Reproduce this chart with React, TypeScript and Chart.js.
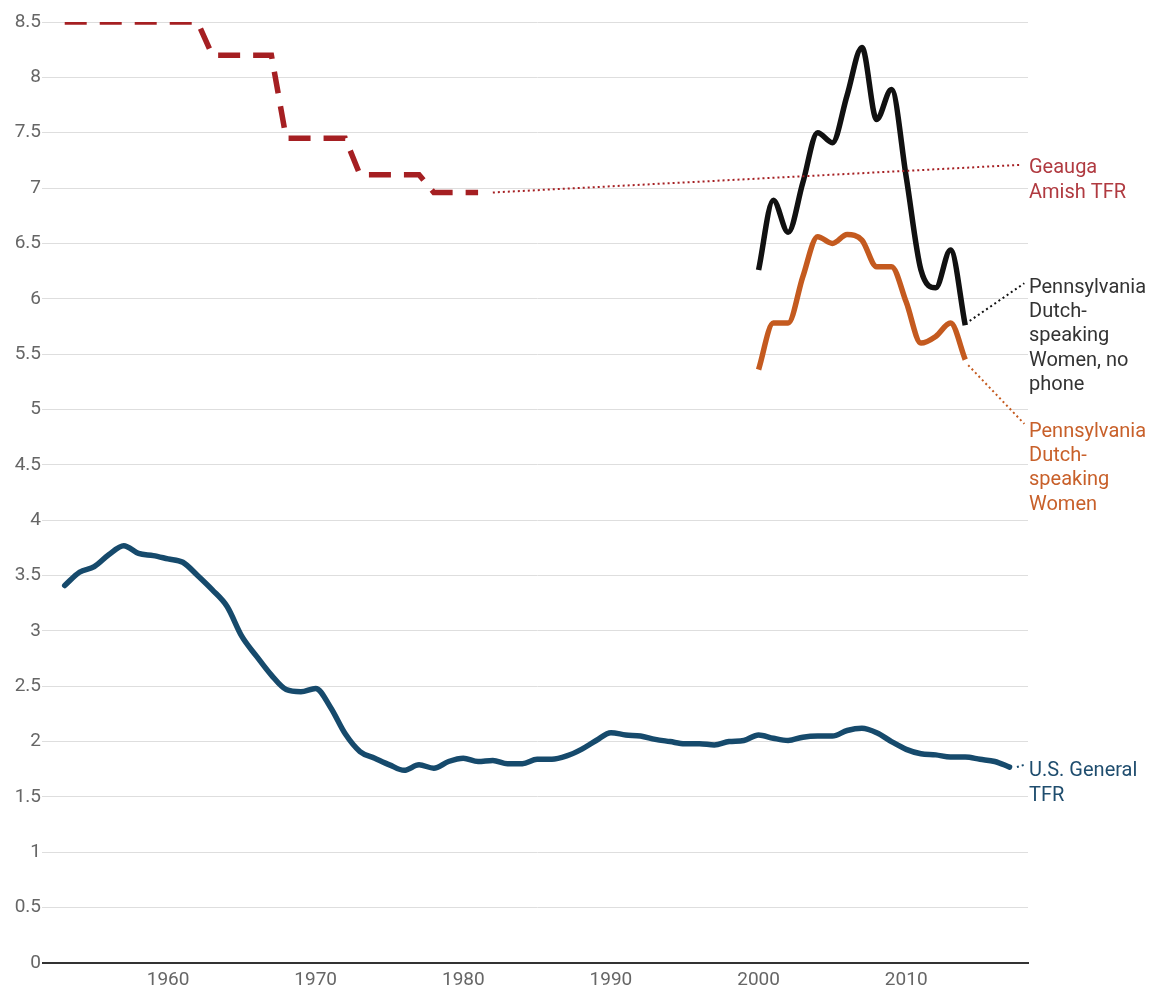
import React, { useEffect, useRef } from "react";
import { Chart, registerables } from "chart.js";

Chart.register(...registerables);

// ---- data ----
const usYears: number[] = [
  1953, 1954, 1955, 1956, 1957, 1958, 1959, 1960, 1961, 1962, 1963, 1964, 1965, 1966, 1967, 1968,
  1969, 1970, 1971, 1972, 1973, 1974, 1975, 1976, 1977, 1978, 1979, 1980, 1981, 1982, 1983, 1984,
  1985, 1986, 1987, 1988, 1989, 1990, 1991, 1992, 1993, 1994, 1995, 1996, 1997, 1998, 1999, 2000,
  2001, 2002, 2003, 2004, 2005, 2006, 2007, 2008, 2009, 2010, 2011, 2012, 2013, 2014, 2015, 2016,
  2017,
];
const usTFR: number[] = [
  3.41, 3.53, 3.58, 3.69, 3.77, 3.7, 3.68, 3.65, 3.62, 3.5, 3.37, 3.22, 2.95, 2.77, 2.6, 2.47,
  2.45, 2.48, 2.31, 2.07, 1.91, 1.85, 1.79, 1.74, 1.79, 1.76, 1.82, 1.85, 1.82, 1.83, 1.8, 1.8,
  1.84, 1.84, 1.87, 1.93, 2.01, 2.08, 2.06, 2.05, 2.02, 2.0, 1.98, 1.98, 1.97, 2.0, 2.01, 2.06,
  2.03, 2.01, 2.04, 2.05, 2.05, 2.1, 2.12, 2.08, 2.0, 1.93, 1.89, 1.88, 1.86, 1.86, 1.84, 1.82,
  1.77,
];

const amishYears: number[] = [
  1953, 1954, 1955, 1956, 1957, 1958, 1959, 1960, 1961, 1962, 1963, 1964, 1965, 1966, 1967, 1968,
  1969, 1970, 1971, 1972, 1973, 1974, 1975, 1976, 1977, 1978, 1979, 1980, 1981,
];
const amishTFR: number[] = [
  8.5, 8.5, 8.5, 8.5, 8.5, 8.5, 8.5, 8.5, 8.5, 8.5, 8.2, 8.2, 8.2, 8.2, 8.2, 7.45,
  7.45, 7.45, 7.45, 7.45, 7.12, 7.12, 7.12, 7.12, 7.12, 6.96, 6.96, 6.96, 6.96,
];

const paYears: number[] = [
  2000, 2001, 2002, 2003, 2004, 2005, 2006, 2007, 2008, 2009, 2010, 2011, 2012, 2013, 2014,
];
const paNoPhoneTFR: number[] = [
  6.26, 6.89, 6.6, 7.05, 7.5, 7.41, 7.84, 8.27, 7.62, 7.89, 7.1, 6.26, 6.1, 6.44, 5.76,
];
const paWomenTFR: number[] = [
  5.36, 5.78, 5.78, 6.2, 6.56, 6.5, 6.58, 6.53, 6.29, 6.29, 5.97, 5.6, 5.66, 5.78, 5.45,
];

const yTicks: number[] = [0, 0.5, 1, 1.5, 2, 2.5, 3, 3.5, 4, 4.5, 5, 5.5, 6, 6.5, 7, 7.5, 8, 8.5];
const xTicks: number[] = [1960, 1970, 1980, 1990, 2000, 2010];

// leader lines (label connectors), [year, value] endpoints
const amishLeaderX: number[] = [1982, 2017.8];
const amishLeaderY: number[] = [6.96, 7.21];
const noPhoneLeaderX: number[] = [2014.3, 2018.0];
const noPhoneLeaderY: number[] = [5.8, 6.14];
const womenLeaderX: number[] = [2014.2, 2018.0];
const womenLeaderY: number[] = [5.4, 4.87];
const usLeaderX: number[] = [2017.5, 2018.0];
const usLeaderY: number[] = [1.77, 1.79];

const labelLines: string[][] = [
  ["Geauga", "Amish TFR"],
  ["Pennsylvania", "Dutch-", "speaking", "Women, no", "phone"],
  ["Pennsylvania", "Dutch-", "speaking", "Women"],
  ["U.S. General", "TFR"],
];
const labelAnchorValues: number[] = [7.18, 6.1, 4.8, 1.73];

const COLORS = {
  amish: "#a51f22",
  amishText: "#b03a40",
  noPhone: "#111111",
  noPhoneText: "#333333",
  women: "#c45a1f",
  womenText: "#c8602a",
  us: "#164a6c",
  usText: "#1f4d6e",
};
const labelColors: string[] = [COLORS.amishText, COLORS.noPhoneText, COLORS.womenText, COLORS.usText];

const FONT = "Roboto, 'Noto Sans', sans-serif";

const pts = (xs: number[], ys: number[]) => xs.map((x, i) => ({ x, y: ys[i] }));

const sideLabels = {
  id: "sideLabels",
  afterDraw(chart: any) {
    const { ctx, chartArea, scales } = chart;
    ctx.save();
    ctx.font = `20px ${FONT}`;
    ctx.textAlign = "left";
    ctx.textBaseline = "middle";
    labelLines.forEach((lines, i) => {
      const y0 = scales.y.getPixelForValue(labelAnchorValues[i]);
      ctx.fillStyle = labelColors[i];
      lines.forEach((t, j) => {
        ctx.fillText(t, chartArea.right + 1, y0 + j * 24.4);
      });
    });
    ctx.restore();
  },
};

export default function App() {
  const ref = useRef<HTMLCanvasElement | null>(null);
  useEffect(() => {
    if (!ref.current) return;
    const leader = (xs: number[], ys: number[], color: string) => ({
      data: pts(xs, ys),
      borderColor: color,
      borderWidth: 2,
      borderDash: [2, 3],
      pointRadius: 0,
      tension: 0,
      fill: false,
    });
    const chart = new Chart(ref.current, {
      type: "line",
      data: {
        datasets: [
          {
            data: pts(amishYears, amishTFR),
            borderColor: COLORS.amish,
            borderWidth: 5.5,
            borderDash: [22, 13],
            borderCapStyle: "butt",
            pointRadius: 0,
            tension: 0,
          },
          leader(amishLeaderX, amishLeaderY, COLORS.amish),
          {
            data: pts(usYears, usTFR),
            borderColor: COLORS.us,
            borderWidth: 5.5,
            borderCapStyle: "round",
            borderJoinStyle: "round",
            pointRadius: 0,
            cubicInterpolationMode: "monotone",
          },
          leader(usLeaderX, usLeaderY, COLORS.us),
          {
            data: pts(paYears, paWomenTFR),
            borderColor: COLORS.women,
            borderWidth: 5.5,
            borderCapStyle: "butt",
            borderJoinStyle: "round",
            pointRadius: 0,
            cubicInterpolationMode: "monotone",
          },
          leader(womenLeaderX, womenLeaderY, COLORS.women),
          {
            data: pts(paYears, paNoPhoneTFR),
            borderColor: COLORS.noPhone,
            borderWidth: 5.5,
            borderCapStyle: "butt",
            borderJoinStyle: "round",
            pointRadius: 0,
            cubicInterpolationMode: "monotone",
          },
          leader(noPhoneLeaderX, noPhoneLeaderY, COLORS.noPhone),
        ] as any,
      },
      options: {
        animation: false,
        responsive: false,
        events: [],
        layout: { padding: { top: 22, right: 122, left: 0, bottom: 0 } },
        plugins: { legend: { display: false }, tooltip: { enabled: false } },
        scales: {
          x: {
            type: "linear",
            min: 1951.8,
            max: 2018.25,
            afterBuildTicks: (s: any) => {
              s.ticks = xTicks.map((v) => ({ value: v }));
            },
            afterFit: (s: any) => {
              s.height = 28;
            },
            grid: { display: false, drawTicks: false },
            border: { display: true, color: "#333", width: 2 },
            ticks: {
              color: "#666",
              font: { family: FONT, size: 19 },
              padding: 6,
              maxRotation: 0,
              callback: (v: any) => String(v),
            },
          },
          y: {
            type: "linear",
            min: 0,
            max: 8.5,
            afterBuildTicks: (s: any) => {
              s.ticks = yTicks.map((v) => ({ value: v }));
            },
            afterFit: (s: any) => {
              s.width = 47;
            },
            grid: {
              color: (c: any) => (c.tick && c.tick.value === 0 ? "#333" : "#dedede"),
              lineWidth: (c: any) => (c.tick && c.tick.value === 0 ? 2 : 1),
              tickLength: 5,
            },
            border: { display: false },
            ticks: {
              color: "#666",
              font: { family: FONT, size: 19 },
              padding: 1,
              callback: (v: any) => String(v),
            },
          },
        },
      },
      plugins: [sideLabels],
    });
    return () => chart.destroy();
  }, []);
  return (
    <div style={{ position: "fixed", left: 0, top: 0, width: 1150, height: 991, background: "#fff" }}>
      <canvas ref={ref} width={1150} height={991} style={{ display: "block" }} />
    </div>
  );
}
